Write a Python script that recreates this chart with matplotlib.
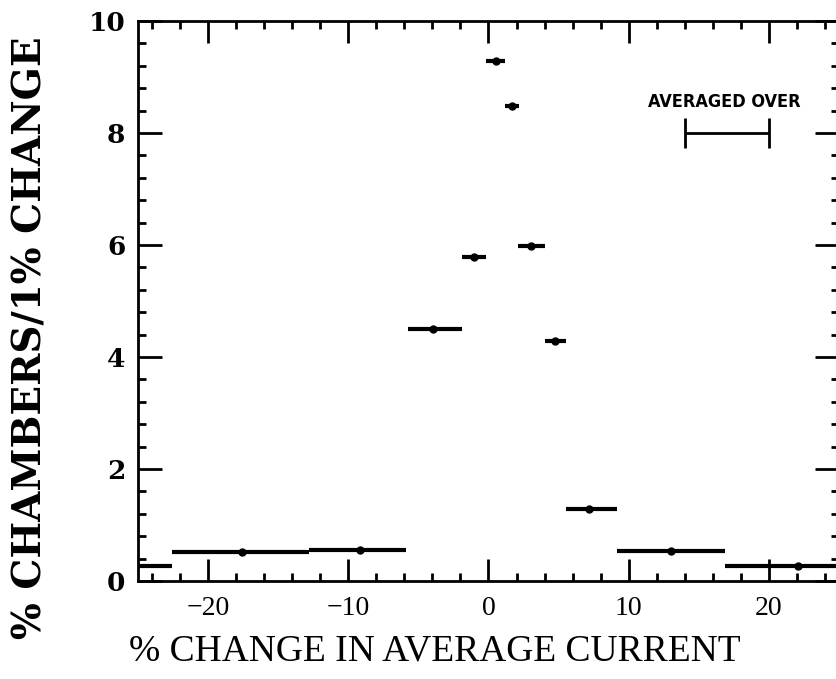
import matplotlib
matplotlib.use("Agg")
import matplotlib.pyplot as plt
from matplotlib.ticker import MultipleLocator, FixedLocator

# ---- data ----
x_center = [-17.6, -9.2, -3.95, -1.05, 0.55, 1.65, 3.0, 4.75, 7.2, 13.0, 22.1]
y_value = [0.51, 0.55, 4.5, 5.79, 9.29, 8.49, 5.99, 4.29, 1.28, 0.54, 0.27]
bin_lo = [-22.6, -12.8, -5.75, -1.9, -0.15, 1.2, 2.1, 4.05, 5.5, 9.15, 16.9]
bin_hi = [-12.8, -5.85, -1.9, -0.15, 1.2, 2.15, 4.05, 5.5, 9.15, 16.9, 27.0]
# leftmost bin (centre outside the plotted range)
edge_lo = [-27.0]
edge_hi = [-22.6]
edge_y = [0.26]
# "averaged over" scale bar
avg_lo, avg_hi, avg_y = 14.0, 20.0, 8.0

x_ticks = [-20, -10, 0, 10, 20]
x_ticklabels = ["\u221220", "\u221210", "0", "10", "20"]
y_ticks = [0, 2, 4, 6, 8, 10]

fig = plt.figure(figsize=(8.36, 6.79), dpi=100)
ax = fig.add_axes([138 / 836, 98 / 679, 701 / 836, 560 / 679])

xerr = [[c - lo for c, lo in zip(x_center, bin_lo)],
        [hi - c for c, hi in zip(x_center, bin_hi)]]
ax.errorbar(x_center, y_value, xerr=xerr, fmt="o", color="black",
            markersize=5, elinewidth=3.0, capsize=0, clip_on=True)
ax.hlines(edge_y, edge_lo, edge_hi, color="black", linewidth=3.0)

# scale bar
ax.errorbar([(avg_lo + avg_hi) / 2], [avg_y], xerr=[(avg_hi - avg_lo) / 2],
            fmt="none", ecolor="black", elinewidth=2.0, capsize=11, capthick=2.0)
ax.text((avg_lo + avg_hi) / 2 - 0.2, 8.56, "AVERAGED OVER", ha="center", va="center",
        fontsize=13, fontweight="bold", fontstretch="condensed",
        family=["DejaVu Sans"])

ax.set_xlim(-25, 25)
ax.set_ylim(0, 10)
ax.xaxis.set_major_locator(FixedLocator(x_ticks))
ax.xaxis.set_minor_locator(MultipleLocator(2))
ax.yaxis.set_major_locator(FixedLocator(y_ticks))
ax.yaxis.set_minor_locator(MultipleLocator(0.4))

ax.tick_params(which="both", direction="in", top=True, right=True, color="black")
ax.tick_params(which="major", axis="x", length=16, width=2.0, pad=11)
ax.tick_params(which="major", axis="y", length=17, width=2.0, pad=9)
ax.tick_params(which="minor", length=5.5, width=2.0)

ax.set_xticklabels(x_ticklabels, fontsize=20, family="Liberation Serif")
ax.set_yticklabels([str(v) for v in y_ticks], fontsize=19, fontweight="bold",
                   family="DejaVu Serif")

for s in ax.spines.values():
    s.set_linewidth(2.0)

fig.text(435 / 836, 1 - 651 / 679, "% CHANGE IN AVERAGE CURRENT", ha="center",
         va="center", fontsize=27, family="Liberation Serif")
fig.text(31 / 836, 1 - 338 / 679, "% CHAMBERS/1% CHANGE", ha="center",
         va="center", rotation=90, fontsize=28, fontweight="bold",
         family="DejaVu Serif")

fig.savefig("out.png", dpi=100)
